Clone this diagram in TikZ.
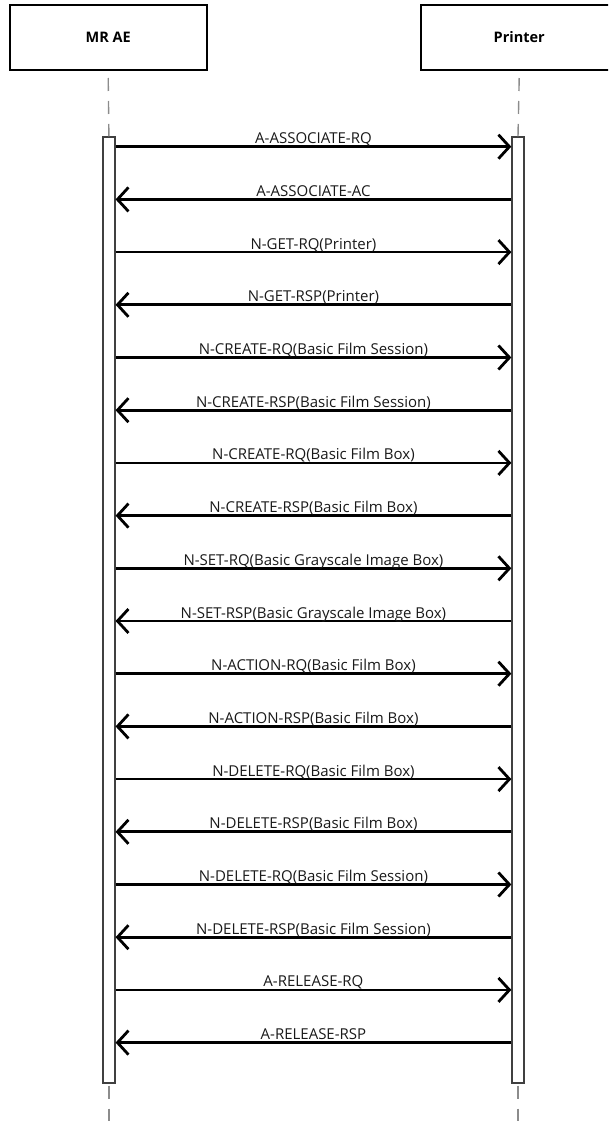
\documentclass[tikz,border=0pt]{standalone}
\usepackage{fontspec}
\setmainfont{Open Sans}
\usetikzlibrary{arrows.meta}
\begin{document}
\begin{tikzpicture}[x=1pt,y=-1pt,
  actor/.style={draw=black,line width=2pt,minimum width=197pt,minimum height=65pt,inner sep=0pt,font=\fontsize{14.5}{16}\selectfont\bfseries},
  actbar/.style={draw=black!75,line width=1.3pt,fill=white,minimum width=12pt,inner sep=0pt},
  lifeline/.style={draw=black!45,line width=1.4pt,dash pattern=on 13pt off 10pt},
  msg/.style={line width=2.7pt,-{Straight Barb[length=11pt,width=24pt,line width=2.8pt]}},
  lbl/.style={font=\fontsize{15}{17}\selectfont,text=black!90,anchor=base,inner sep=0pt}]
\useasboundingbox (0,0) rectangle (608,1121);
\clip (0,0) rectangle (608,1121);
\node[actor] (mr) at (108.2,37.5) {MR AE};
\node[actor] (pr) at (519.2,37.5) {Printer};
\node[actbar,minimum height=946pt] (barL) at (108.9,610) {};
\node[actbar,minimum height=946pt] (barR) at (518.0,610) {};
\coordinate (endL) at (108.9,1121);
\coordinate (endR) at (518.0,1121);
\draw[lifeline] ([yshift=-7pt]mr.south) -- (barL.north);
\draw[lifeline] ([yshift=-7pt]pr.south) -- (barR.north);
\draw[lifeline] ([yshift=-2pt]barL.south) -- (endL);
\draw[lifeline] ([yshift=-2pt]barR.south) -- (endR);
\foreach \i/\d/\t in {
  0/R/A-ASSOCIATE-RQ,
  1/L/A-ASSOCIATE-AC,
  2/R/N-GET-RQ(Printer),
  3/L/N-GET-RSP(Printer),
  4/R/N-CREATE-RQ(Basic Film Session),
  5/L/N-CREATE-RSP(Basic Film Session),
  6/R/N-CREATE-RQ(Basic Film Box),
  7/L/N-CREATE-RSP(Basic Film Box),
  8/R/N-SET-RQ(Basic Grayscale Image Box),
  9/L/N-SET-RSP(Basic Grayscale Image Box),
  10/R/N-ACTION-RQ(Basic Film Box),
  11/L/N-ACTION-RSP(Basic Film Box),
  12/R/N-DELETE-RQ(Basic Film Box),
  13/L/N-DELETE-RSP(Basic Film Box),
  14/R/N-DELETE-RQ(Basic Film Session),
  15/L/N-DELETE-RSP(Basic Film Session),
  16/R/A-RELEASE-RQ,
  17/L/A-RELEASE-RSP}{
  \pgfmathsetmacro{\yy}{146.7+\i*52.7}
  \if\d R
    \draw[msg] (barL.east |- 0,\yy) -- (barR.west |- 0,\yy)
      node[lbl,midway,yshift=3pt] {\t};
  \else
    \draw[msg] (barR.west |- 0,\yy) -- (barL.east |- 0,\yy)
      node[lbl,midway,yshift=3pt] {\t};
  \fi
}
\end{tikzpicture}
\end{document}
